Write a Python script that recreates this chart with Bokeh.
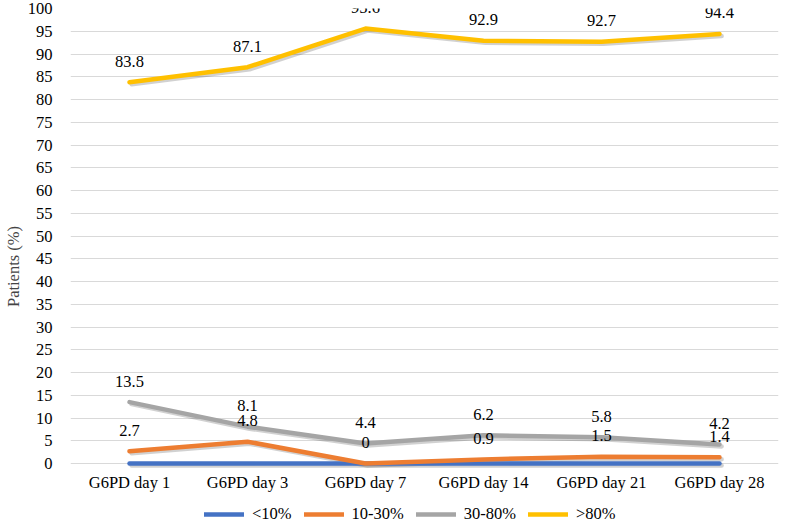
from bokeh.plotting import figure
from bokeh.models import (FactorRange, Range1d, Legend, LegendItem, ColumnDataSource,
                          FixedTicker, LabelSet)
from bokeh.transform import dodge
from bokeh.core.properties import value
from bokeh.embed import file_html
from bokeh.resources import INLINE

categories = ["G6PD day 1", "G6PD day 3", "G6PD day 7", "G6PD day 14", "G6PD day 21", "G6PD day 28"]
lt10 = [0, 0, 0, 0, 0, 0]
p10_30 = [2.7, 4.8, 0, 0.9, 1.5, 1.4]
p30_80 = [13.5, 8.1, 4.4, 6.2, 5.8, 4.2]
gt80 = [83.8, 87.1, 95.6, 92.9, 92.7, 94.4]
series_names = ["<10%", "10-30%", "30-80%", ">80%"]
colors = ["#4472C4", "#ED7D31", "#A5A5A5", "#FFC000"]
show_labels = [False, True, True, True]
y_ticks = list(range(0, 101, 5))

FONT = "Liberation Serif"
FS = "16.5px"

# frame runs to the bottom of the page; room below 0 holds the category labels and legend
p = figure(width=793, height=524, x_range=FactorRange(*categories), y_range=Range1d(-13.4, 100),
           x_axis_location=None, output_backend="svg", toolbar_location=None,
           min_border_left=58, min_border_right=15, min_border_top=8, min_border_bottom=0)
p.outline_line_color = None
p.background_fill_color = "white"
p.border_fill_color = "white"

p.yaxis.ticker = FixedTicker(ticks=y_ticks)
p.yaxis.axis_line_color = None
p.yaxis.major_tick_line_color = None
p.yaxis.minor_tick_line_color = None
p.yaxis.major_label_text_font = FONT
p.yaxis.major_label_text_font_size = FS
p.yaxis.major_label_text_color = "#000000"
p.yaxis.major_label_standoff = 12
p.yaxis.axis_label = "Patients (%)"
p.yaxis.axis_label_text_font = FONT
p.yaxis.axis_label_text_font_style = "normal"
p.yaxis.axis_label_text_font_size = FS
p.yaxis.axis_label_standoff = 2

p.xgrid.grid_line_color = None
p.ygrid.grid_line_color = "#D9D9D9"
p.ygrid.grid_line_width = 1

# category labels under the zero line
cat_src = ColumnDataSource(dict(x=categories, t=categories))
p.text("x", value(0), text="t", source=cat_src, text_font=value(FONT), text_font_size=FS,
       text_color="#000000", text_align="center", text_baseline="middle", y_offset=19)

items = []
all_series = [lt10, p10_30, p30_80, gt80]
sources = []
for vals in all_series:
    sources.append(ColumnDataSource(dict(x=categories, y=vals, t=[str(v) for v in vals])))

# soft drop shadows
for src in sources:
    p.line(dodge("x", 0.018, range=p.x_range), dodge("y", -0.45), source=src,
           line_color="#000000", line_alpha=0.18, line_width=4.5, line_cap="round", line_join="round")

for name, src, col in zip(series_names, sources, colors):
    r = p.line("x", "y", source=src, line_color=col, line_width=4.5, line_cap="round", line_join="round")
    items.append(LegendItem(label=name, renderers=[r]))

for src, lab in zip(sources, show_labels):
    if lab:
        ls = LabelSet(x="x", y="y", text="t", source=src, text_font=FONT, text_font_size=FS,
                      text_color="#000000", text_align="center", text_baseline="middle", y_offset=21)
        p.add_layout(ls)

legend = Legend(items=items, orientation="horizontal", location=(134, 0),
                label_text_font=FONT, label_text_font_size=FS, label_text_color="#000000",
                glyph_width=40, glyph_height=14, label_height=16, spacing=12, label_standoff=8,
                border_line_color=None, background_fill_alpha=0, margin=0, padding=0)
p.add_layout(legend, "center")

open("out.html", "w").write(file_html(p, INLINE))
